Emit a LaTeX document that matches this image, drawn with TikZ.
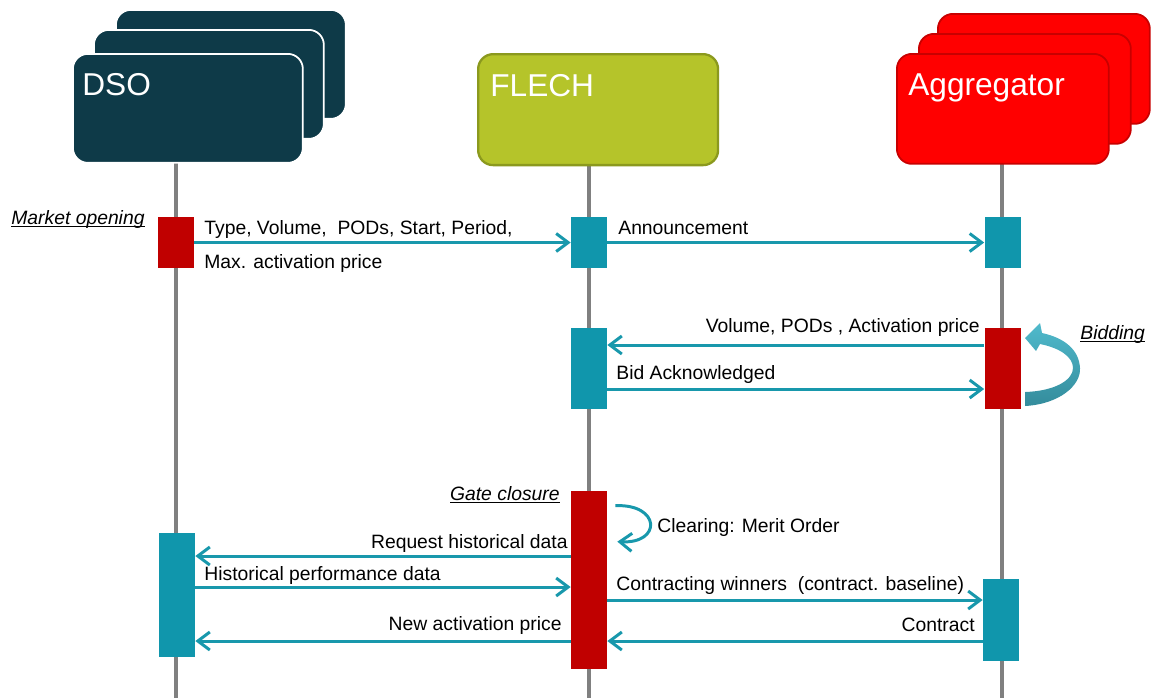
\documentclass[tikz,border=0pt]{standalone}
\usepackage{fontspec}
\setmainfont{Liberation Sans}
\usetikzlibrary{positioning, arrows.meta}
\tikzstyle{actor}=[rounded corners=0.3cm, anchor=north west, inner sep=0pt, line width=1pt]
\tikzstyle{head}=[text=white, font=\fontsize{18}{20}\selectfont, anchor=base west, inner sep=0pt]
\tikzstyle{bar}=[minimum width=0.72cm, inner sep=0pt, draw=none]
\tikzstyle{msg}=[-{Straight Barb[length=2.4mm, width=3.6mm]}, color=msg_teal, line width=1.7pt]
\tikzstyle{txt}=[font=\fontsize{11}{13}\selectfont, inner sep=0pt]
\tikzstyle{lifeline}=[draw=life_gray, line width=2.3pt]
\definecolor{dso_blue}{RGB}{14, 58, 72}
\definecolor{flech_green}{RGB}{181, 196, 42}
\definecolor{flech_edge}{RGB}{139, 153, 30}
\definecolor{agg_red}{RGB}{255, 0, 0}
\definecolor{agg_edge}{RGB}{200, 0, 0}
\definecolor{bar_red}{RGB}{192, 0, 0}
\definecolor{bar_teal}{RGB}{16, 150, 172}
\definecolor{msg_teal}{RGB}{24, 152, 172}
\definecolor{life_gray}{RGB}{128, 128, 128}
\definecolor{bid_light}{RGB}{80, 186, 204}
\definecolor{bid_dark}{RGB}{52, 140, 156}
\newcommand{\steplabel}[1]{\setbox0\hbox{\itshape #1}\rlap{\rule[-1.7pt]{\wd0}{0.6pt}}\box0}

\begin{document}
\begin{tikzpicture}[x=0.02cm, y=-0.02cm]
    \useasboundingbox (0,0) rectangle (1152,698);
    % lifelines
    \coordinate (dso_top) at (176,160);
    \coordinate (fl_top) at (589,160);
    \coordinate (ag_top) at (1002,160);
    \draw[lifeline] (dso_top) -- (dso_top |- 0,698);
    \draw[lifeline] (fl_top) -- (fl_top |- 0,698);
    \draw[lifeline] (ag_top) -- (ag_top |- 0,698);

    % actors
    \foreach \bx/\by in {115/9, 93/29}
        \node[actor, fill=dso_blue, draw=white, minimum width=4.6cm, minimum height=2.18cm] at (\bx,\by) {};
    \node[actor, fill=dso_blue, draw=white, minimum width=4.6cm, minimum height=2.18cm] (dso) at (72,53) {};
    \node[head] (dso_lbl) at ([shift={(10,42)}]dso.north west) {DSO};

    \node[actor, fill=flech_green, draw=flech_edge, line width=1.3pt, minimum width=4.8cm, minimum height=2.22cm] (fl) at (477,53) {};
    \node[head] (fl_lbl) at ([shift={(13,43)}]fl.north west) {FLECH};

    \foreach \bx/\by in {937/13, 918/33} {
        \node[actor, fill=agg_red, draw=agg_edge, minimum width=4.24cm, minimum height=2.2cm] (ag_back) at (\bx,\by) {};
        \node[head] at ([shift={(12,42)}]ag_back.north west) {Aggregator};
    }
    \node[actor, fill=agg_red, draw=agg_edge, minimum width=4.24cm, minimum height=2.2cm] (ag) at (896,53) {};
    \node[head] (ag_lbl) at ([shift={(12,42)}]ag.north west) {Aggregator};

    % activation bars
    \node[bar, fill=bar_red, minimum height=1.02cm] (dso_open) at (176,242.5) {};
    \node[bar, fill=bar_teal, minimum height=1.02cm] (fl_ann) at (589,242.5) {};
    \node[bar, fill=bar_teal, minimum height=1.02cm] (ag_ann) at (1002.5,242.5) {};
    \node[bar, fill=bar_teal, minimum height=1.62cm] (fl_bid) at (589,368.5) {};
    \node[bar, fill=bar_red, minimum height=1.62cm] (ag_bid) at (1002.5,368.5) {};
    \node[bar, fill=bar_red, minimum height=3.56cm] (fl_gate) at (589,580) {};
    \node[bar, fill=bar_teal, minimum height=2.48cm] (dso_hist) at (177,595) {};
    \node[bar, fill=bar_teal, minimum height=1.64cm] (ag_win) at (1001,620) {};

    % messages
    \draw[msg] (dso_open.east) -- (fl_ann.west);
    \draw[msg] (fl_ann.east) -- (ag_ann.west);
    \draw[msg] (ag_bid.west |- 0,345) -- (fl_bid.east |- 0,345);
    \draw[msg] (fl_bid.east |- 0,389) -- (ag_bid.west |- 0,389);
    \draw[msg] (fl_gate.west |- 0,556) -- (dso_hist.east |- 0,556);
    \draw[msg] (dso_hist.east |- 0,587) -- (fl_gate.west |- 0,587);
    \draw[msg] (fl_gate.east |- 0,600) -- (ag_win.west |- 0,600);
    \draw[msg] (fl_gate.west |- 0,641) -- (dso_hist.east |- 0,641);
    \draw[msg] (ag_win.west |- 0,641) -- (fl_gate.east |- 0,641);
    \draw[msg] ([shift={(8,15)}]fl_gate.north east) .. controls +(45,-2) and +(45,2) .. ([shift={(10,51)}]fl_gate.north east);

    % bidding loop
    \shade[top color=bid_light, bottom color=bid_dark]
        (1025,406) .. controls (1060,404) and (1081,385) .. (1080,368)
        .. controls (1079,350) and (1065,338) .. (1042,333) -- (1040,323) -- (1025,338) -- (1036,351) -- (1040,344)
        .. controls (1060,348) and (1073,357) .. (1073,368)
        .. controls (1073,380) and (1055,391) .. (1025,392) -- cycle;

    % texts
    \node[txt, anchor=base west] (m_open) at (11,224) {\steplabel{Market opening}};
    \node[txt, anchor=base west] (m_bidding) at (1080,339) {\steplabel{Bidding}};
    \node[txt, anchor=base east] (m_gate) at (560,500) {\steplabel{Gate closure}};
    \node[txt, anchor=base west] (t_type) at (204,234) {Type, Volume,\ \ PODs, Start, Period,};
    \node[txt, anchor=base west] (t_max) at (204,268) {Max. activation price};
    \node[txt, anchor=base west] (t_ann) at (618,234) {Announcement};
    \node[txt, anchor=base east] (t_vol) at (980,332) {Volume, PODs , Activation price};
    \node[txt, anchor=base west] (t_ack) at (616,379) {Bid Acknowledged};
    \node[txt, anchor=base west] (t_clear) at (657,532) {Clearing: Merit Order};
    \node[txt, anchor=base east] (t_req) at (568,548) {Request historical data};
    \node[txt, anchor=base west] (t_hist) at (204,580) {Historical performance data};
    \node[txt, anchor=base west] (t_win) at (616,590) {Contracting winners\ \ (contract. baseline)};
    \node[txt, anchor=base east] (t_new) at (562,630) {New activation price};
    \node[txt, anchor=base east] (t_con) at (975,631) {Contract};
\end{tikzpicture}
\end{document}
